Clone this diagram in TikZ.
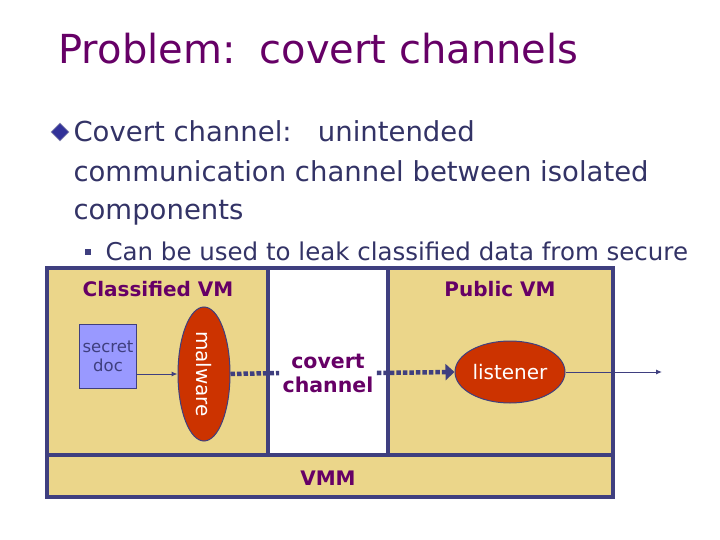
\documentclass[tikz,border=0pt]{standalone}
\usepackage{fontspec}
\setmainfont{DejaVu Sans}
\usetikzlibrary{shapes.geometric,arrows.meta}
\definecolor{vmfill}{HTML}{EBD68A}
\definecolor{frame}{HTML}{3F3F7F}
\definecolor{plum}{HTML}{660066}
\definecolor{ink}{HTML}{333366}
\definecolor{rust}{HTML}{CC3300}
\definecolor{docfill}{HTML}{9999FF}
\begin{document}
\begin{tikzpicture}[x=1pt,y=-1pt,
    vm/.style={draw=frame,line width=3.5pt,fill=vmfill},
    lbl/.style={font=\bfseries\fontsize{20}{24}\selectfont,text=plum},
    line/.style={anchor=base west,text=ink,font=\fontsize{27.5}{34}\selectfont},
    blob/.style={ellipse,draw=frame,line width=1pt,fill=rust,text=white,inner sep=0pt},
    flow/.style={draw=frame,line width=1pt,-{Latex[length=6pt,width=5pt]}}]
    \useasboundingbox (0,0) rectangle (720,540);
    % heading and text
    \node[anchor=base west,text=plum,font=\fontsize{40}{44}\selectfont] (title) at (55,64) {Problem:\hspace{0.6em}covert channels};
    \node[diamond,fill=frame!80!blue,draw=frame!60,line width=0.8pt,inner sep=4.5pt] (dia) at (60,132) {};
    \node[line] (l1) at (70,142) {Covert channel:\ \ \ unintended};
    \node[line] (l2) at (70,182) {communication channel between isolated};
    \node[line] (l3) at (70,220) {components};
    \node[fill=frame,minimum size=6pt,inner sep=0pt] (sq) at (88,252) {};
    \node[anchor=base west,text=ink,font=\fontsize{24.5}{28}\selectfont] (sub) at (102,260)
        {Can be used to leak classified data from secure};
    % boxes
    \draw[vm] (47,268) rectangle (613,497);
    \fill[white] (268,270) rectangle (388,455);
    \draw[vm] (47,268) rectangle (268,455);
    \draw[vm] (388,268) rectangle (613,455);
    \draw[frame,line width=3.5pt] (268,268) -- (388,268);
    \draw[vm] (47,455) rectangle (613,497);
    \node[lbl] (cls) at (158,289) {Classified VM};
    \node[lbl] (pub) at (500,289) {Public VM};
    \node[lbl] (vmm) at (328,478) {VMM};
    \node[lbl,align=center,font=\bfseries\fontsize{20.5}{24}\selectfont] (chan) at (328,373) {covert\\channel};
    % parts
    \node[draw=frame,line width=1pt,fill=docfill,text=frame,minimum width=57pt,minimum height=64pt,
        align=center,font=\fontsize{16.5}{19}\selectfont] (doc) at (108,356) {secret\\doc};
    \node[blob,minimum width=52pt,minimum height=134pt] (mal) at (204,374) {};
    \node[rotate=-90,text=white,font=\fontsize{20}{22}\selectfont] (maltxt) at (204,374) {malware};
    \node[blob,minimum width=110pt,minimum height=62pt,font=\fontsize{20}{22}\selectfont] (lis) at (510,372) {listener};
    \coordinate (out) at (662,372);
    \draw[flow] (doc.east |- mal.west) -- (mal.west);
    \draw[frame,line width=4.5pt,dash pattern=on 4.5pt off 2pt] (mal.east) -- (chan.west);
    \draw[frame,line width=4.5pt,dash pattern=on 4.5pt off 2pt,-{Triangle[length=9pt,width=16pt]}] (chan.east) -- (lis.west);
    \draw[flow] (lis.east) -- (out);
\end{tikzpicture}
\end{document}
